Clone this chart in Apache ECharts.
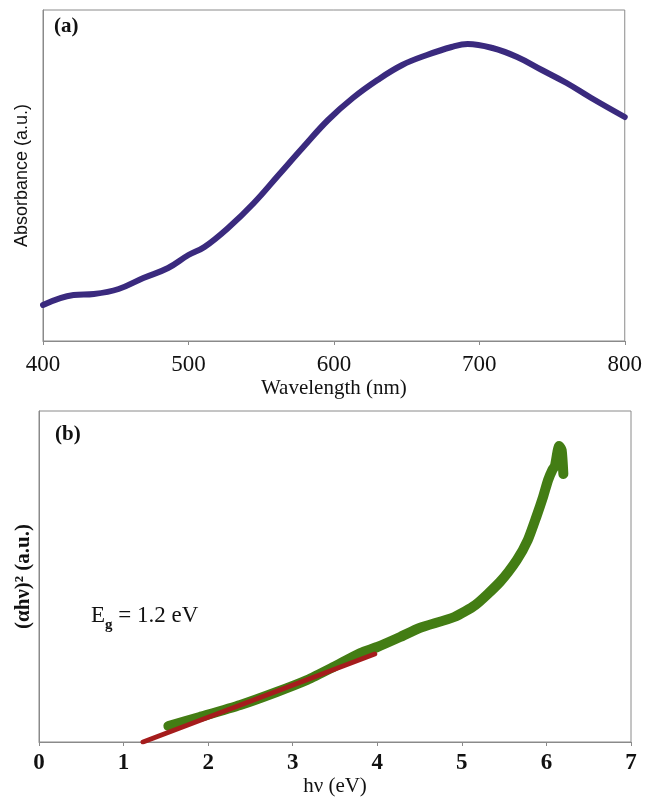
<!DOCTYPE html>
<html>
<head>
<meta charset="utf-8">
<script src="https://cdn.jsdelivr.net/npm/echarts@6/dist/echarts.min.js"></script>
<style>
html, body { margin: 0; padding: 0; background: #fff; }
#main { width: 645px; height: 803px; }
</style>
</head>
<body>
<div id="main"></div>
<script>
// panel (a) absorbance, arbitrary units
var wavelength = [400, 421, 435, 452, 469, 486, 500, 511, 528, 545, 562, 579, 596, 613, 630, 647, 664, 681, 692, 709, 726, 743, 760, 777, 800];
var absorbance = [36, 46, 47, 52, 63, 73, 86, 94, 114, 138, 166, 194, 221, 243, 261, 276, 286, 294, 297, 293, 284, 271, 258, 243, 224];
var wlTicks = [400, 500, 600, 700, 800];

// panel (b) tauc plot
var energy = [1.53, 1.9, 2.38, 2.81, 3.17, 3.48, 3.8, 4.0, 4.27, 4.5, 4.91, 5.16, 5.45, 5.65, 5.78, 5.88, 5.96, 6.02, 6.07, 6.1, 6.13, 6.15, 6.18, 6.2];
var tauc = [16, 25, 37, 50, 62, 75, 89, 95, 105, 114, 125, 137, 160, 182, 202, 225, 245, 262, 272, 276, 290, 296, 292, 268];
var fitX = [1.23, 3.97];
var fitY = [0, 88];
var evTicks = [0, 1, 2, 3, 4, 5, 6, 7];

function pairs(xs, ys) {
	var out = [];
	for (var i = 0; i < xs.length; i++) {
		out.push([xs[i], ys[i]]);
	}
	return out;
}

var serif = '"Liberation Serif", "DejaVu Serif", serif';
var axisGray = '#8a8a8a';

var chart = echarts.init(document.getElementById('main'), null, { renderer: 'canvas' });

chart.setOption({
	backgroundColor: '#fff',
	animation: false,
	grid: [
		{ left: 43, right: 19, top: 10, height: 331, show: true, borderColor: axisGray, borderWidth: 1 },
		{ left: 39, right: 14, top: 411, height: 331, show: true, borderColor: axisGray, borderWidth: 1 }
	],
	xAxis: [{
		gridIndex: 0,
		type: 'value',
		min: wlTicks[0],
		max: wlTicks[wlTicks.length - 1],
		interval: 100,
		splitLine: { show: false },
		axisLine: { lineStyle: { color: axisGray } },
		axisTick: { length: 4, lineStyle: { color: axisGray } },
		axisLabel: { fontFamily: serif, fontSize: 23, color: '#111', margin: 12 },
		name: 'Wavelength (nm)',
		nameLocation: 'middle',
		nameGap: 37,
		nameTextStyle: { fontFamily: serif, fontSize: 21, color: '#111' }
	}, {
		gridIndex: 1,
		type: 'value',
		min: evTicks[0],
		max: evTicks[evTicks.length - 1],
		interval: 1,
		splitLine: { show: false },
		axisLine: { lineStyle: { color: axisGray } },
		axisTick: { length: 4, lineStyle: { color: axisGray } },
		axisLabel: { fontFamily: serif, fontSize: 23, fontWeight: 'bold', color: '#111', margin: 10 },
		name: 'h\u03bd (eV)',
		nameLocation: 'middle',
		nameGap: 33,
		nameTextStyle: { fontFamily: serif, fontSize: 21, color: '#111' }
	}],
	yAxis: [{
		gridIndex: 0,
		type: 'value',
		min: 0,
		max: 331,
		splitLine: { show: false },
		axisLine: { show: true, lineStyle: { color: axisGray } },
		axisTick: { show: false },
		axisLabel: { show: false },
		name: 'Absorbance (a.u.)',
		nameLocation: 'middle',
		nameGap: 12,
		nameTextStyle: { fontFamily: '"Liberation Sans", Arial, sans-serif', fontSize: 18, color: '#111' }
	}, {
		gridIndex: 1,
		type: 'value',
		min: 0,
		max: 331,
		splitLine: { show: false },
		axisLine: { show: true, lineStyle: { color: axisGray } },
		axisTick: { show: false },
		axisLabel: { show: false },
		name: '(\u03b1h\u03bd)\u00b2 (a.u.)',
		nameLocation: 'middle',
		nameGap: 5,
		nameTextStyle: { fontFamily: serif, fontSize: 21, fontWeight: 'bold', color: '#111' }
	}],
	series: [{
		type: 'line',
		xAxisIndex: 0,
		yAxisIndex: 0,
		data: pairs(wavelength, absorbance),
		smooth: 0.4,
		showSymbol: false,
		lineStyle: { color: '#3a2a7e', width: 6, cap: 'round' }
	}, {
		type: 'line',
		xAxisIndex: 1,
		yAxisIndex: 1,
		data: pairs(energy, tauc),
		smooth: 0.2,
		showSymbol: false,
		lineStyle: { color: '#437d14', width: 10, cap: 'round', join: 'round' }
	}, {
		type: 'line',
		xAxisIndex: 1,
		yAxisIndex: 1,
		data: pairs(fitX, fitY),
		showSymbol: false,
		z: 3,
		lineStyle: { color: '#a51c1c', width: 5, cap: 'round' }
	}],
	graphic: [{
		type: 'text',
		left: 54,
		top: 16,
		style: { text: '(a)', fontFamily: serif, fontSize: 21, fontWeight: 'bold', fill: '#111' }
	}, {
		type: 'text',
		left: 55,
		top: 424,
		style: { text: '(b)', fontFamily: serif, fontSize: 21, fontWeight: 'bold', fill: '#111' }
	}, {
		type: 'text',
		left: 91,
		top: 604,
		style: {
			text: '{a|E}{b|g}{a| = 1.2 eV}',
			fontFamily: serif,
			fill: '#111',
			rich: {
				a: { fontFamily: serif, fontSize: 23, fill: '#111', verticalAlign: 'bottom', lineHeight: 30, padding: [0, 0, 6, 0] },
				b: { fontFamily: serif, fontSize: 15, fontWeight: 'bold', fill: '#111', verticalAlign: 'bottom', lineHeight: 30 }
			}
		}
	}]
});
</script>
</body>
</html>
